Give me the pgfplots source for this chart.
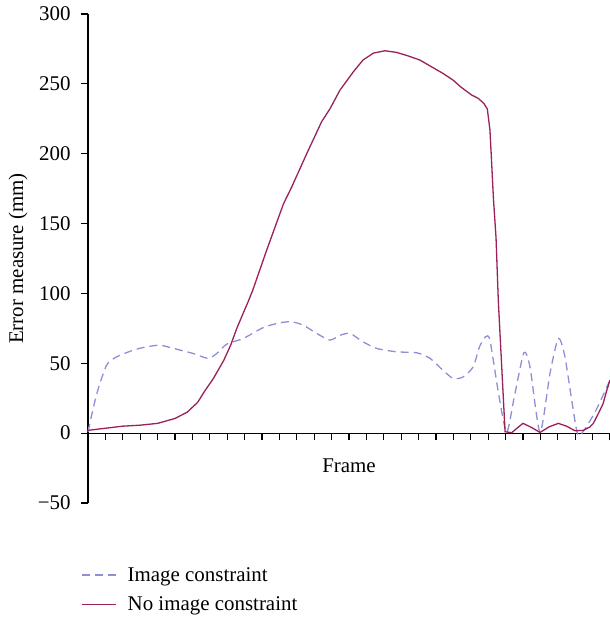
\documentclass[border=0pt]{standalone}
\usepackage{fontspec}
\setmainfont{Liberation Serif}
\usepackage{pgfplots}
\pgfplotsset{compat=1.18}
\definecolor{dashc}{RGB}{143,143,214}
\definecolor{solidc}{RGB}{155,32,92}
\begin{document}
\begin{tikzpicture}
\begin{axis}[name=ax, at={(0,0)}, anchor=south west,
  scale only axis, width=522bp, height=489bp,
  axis x line=middle, axis y line=left,
  axis line style={-, line width=1.2bp, black},
  xmin=0, xmax=30, ymin=-50, ymax=300,
  xtick={1,...,30}, xticklabels={},
  ytick={-50,0,50,100,150,200,250,300},
  yticklabels={−50,0,50,100,150,200,250,300},
  tick align=outside, major tick length=7bp,
  tick style={line width=1.2bp, black},
  yticklabel style={xshift=-7bp},
  font=\fontsize{21}{25}\selectfont,
  xlabel={Frame}, ylabel={Error measure (mm)},
  xlabel style={at={(axis description cs:0.5,0.0757)}, anchor=center},
  ylabel style={at={(axis description cs:-0.134,0.5)}, anchor=center, rotate=0},
  legend style={at={(axis description cs:-0.013,-0.129)}, anchor=north west,
    draw=none, fill=none, inner sep=0pt, row sep=12bp,
    font=\fontsize{21}{25}\selectfont,
    nodes={inner sep=1bp}},
  legend cell align=left,
  legend image code/.code={\draw[#1] (0bp,0bp) -- (34bp,0bp);},
  clip=false,
]
\addplot[dashc, line width=1.3bp, dash pattern=on 8bp off 5bp, smooth, tension=0.4] coordinates {
(0,1) (0.5,28) (1.07,48.7) (1.65,54.6) (2.6,59.4) (3.37,61.8) (4.14,63) (4.71,61.3)
(6.05,57) (6.9,53.5) (7.4,57) (7.97,63.7) (8.93,67.8) (10.08,75.6) (11.03,79) (11.7,79.7)
(12.37,77.3) (13.14,71.4) (13.9,66.6) (14.48,70) (15.06,71.4) (15.8,65.4) (16.6,60.6)
(17.74,58.2) (18.9,57.5) (19.66,53.5) (20.4,45) (21.0,39) (21.57,40.3) (22.14,47.5)
(22.5,61.8) (22.85,69) (23.1,66.5) (23.6,28) (24.06,0.5) (24.5,26) (25.05,57.5) (25.4,47.5)
(25.98,0.5) (26.55,42.7) (27.03,67.8) (27.41,54.6) (28.1,1) (28.47,1.5) (29.2,16.5) (30,38)
};
\addlegendentry{\hspace{10bp}Image constraint}
\addplot[solidc, line width=1.3bp] coordinates {
(0,2) (1,3.5) (2,5) (3,5.7) (4,7) (5,10.5) (5.7,15) (6.3,22) (6.7,30) (7.2,39) (7.8,52)
(8.2,63) (8.55,75) (9.2,94) (9.46,102) (10.27,131) (11.23,164) (11.7,176) (12.57,200)
(13.43,223) (13.9,232) (14.48,245.5) (15.25,258.6) (15.8,267) (16.4,272) (17.07,273.7)
(17.74,272.5) (18.4,270) (19.08,267) (19.7,262.5) (20.4,257.5) (21.0,252.5) (21.4,248)
(22.05,242) (22.43,239.6) (22.75,236) (22.95,232) (23.1,217) (23.2,193) (23.3,168)
(23.45,140) (23.58,95) (23.97,1) (24.35,0.3) (24.7,4) (25.0,7) (25.5,4) (25.98,0.5)
(26.5,4.5) (27.03,7) (27.5,5) (27.99,1.7) (28.47,2) (28.85,4.5) (29.04,7) (29.33,14)
(29.6,21) (29.8,30) (30,38)
};
\addlegendentry{\hspace{10bp}No image constraint}
\end{axis}
\pgfresetboundingbox
\path ([xshift=-88bp,yshift=-114bp]ax.south west) rectangle ([yshift=14bp]ax.north east);
\end{tikzpicture}
\end{document}
